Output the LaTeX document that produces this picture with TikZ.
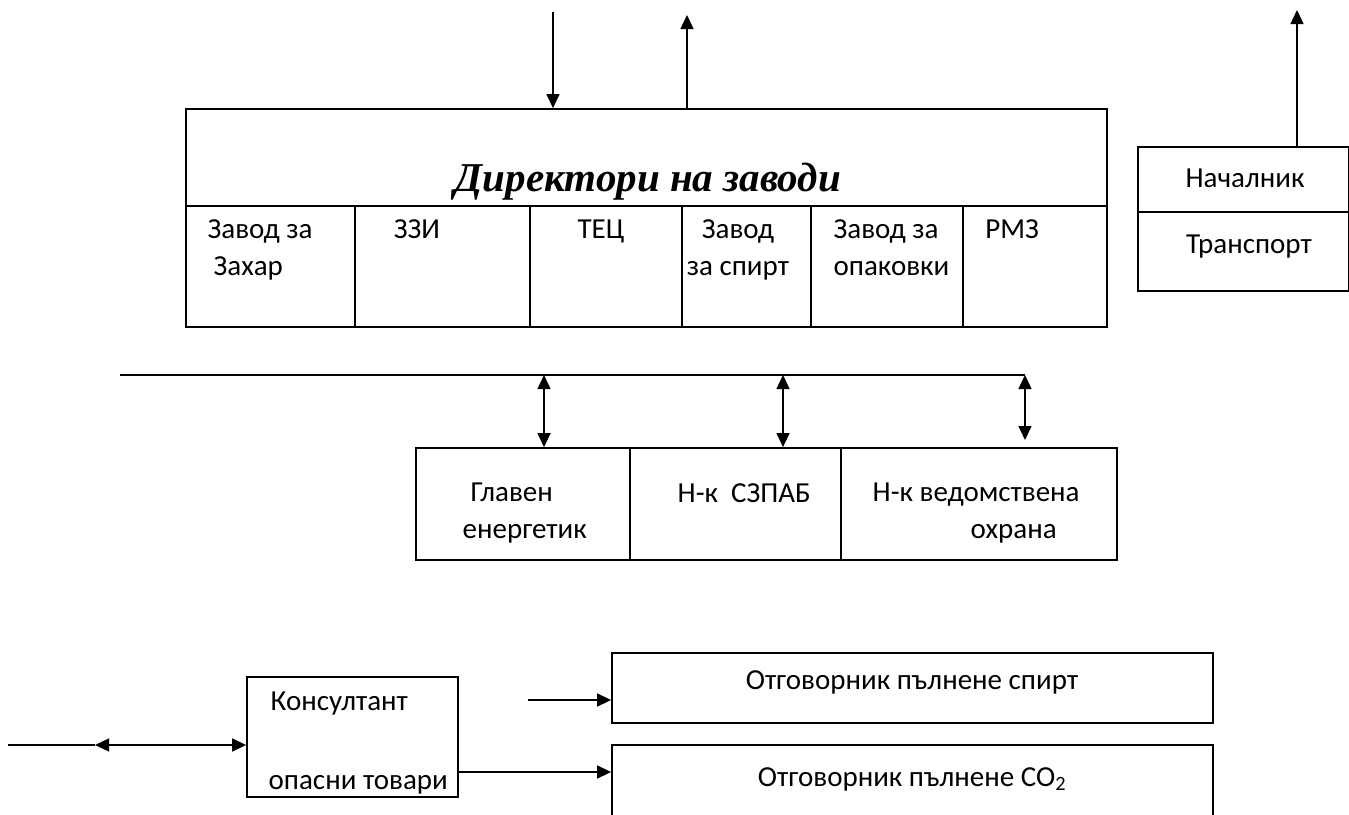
\documentclass[tikz,border=0pt]{standalone}
\usepackage{fontspec}
\setmainfont{Carlito}
\newfontfamily\titlefont{Liberation Serif}
\usetikzlibrary{arrows.meta}
\tikzset{
  box/.style={draw, line width=1.8pt, inner sep=0pt},
  lbl/.style={font=\fontsize{29}{36.5}\selectfont, inner sep=0pt, anchor=base},
  tip/.style={-{Triangle[length=14pt,width=13pt]}},
  bitip/.style={{Triangle[length=14pt,width=13pt]}-{Triangle[length=14pt,width=13pt]}},
}
\begin{document}
\begin{tikzpicture}[x=1pt,y=-1pt,line width=1.4pt]
      \useasboundingbox (0,0) rectangle (1349,814);
      % directors
      \node[box, minimum width=921pt, minimum height=97pt] (dir) at (646.5,157.5) {};
      \node[lbl, font=\titlefont\bfseries\itshape\fontsize{41}{44}\selectfont] (title) at (648,191) {Директори на заводи};
      \node[box, minimum width=169pt, minimum height=121pt] (c1) at (270.5,266.5) {};
      \node[box, minimum width=175pt, minimum height=121pt] (c2) at (442.5,266.5) {};
      \node[box, minimum width=152pt, minimum height=121pt] (c3) at (606,266.5) {};
      \node[box, minimum width=129pt, minimum height=121pt] (c4) at (746.5,266.5) {};
      \node[box, minimum width=152pt, minimum height=121pt] (c5) at (887,266.5) {};
      \node[box, minimum width=144pt, minimum height=121pt] (c6) at (1035,266.5) {};
      \node[lbl, anchor=base west, align=left] (t1) at (207,275) {Завод за\\\hspace{6pt}Захар};
      \node[lbl] (t2) at (417,238) {ЗЗИ};
      \node[lbl] (t3) at (601,238) {ТЕЦ};
      \node[lbl, align=center] (t4) at (738,275) {Завод\\за спирт};
      \node[lbl, anchor=base west, align=left] (t5) at (833,275) {Завод за\\опаковки};
      \node[lbl] (t6) at (1012,238) {РМЗ};
      \coordinate (in) at (553,12);
      \coordinate (out) at (687,15);
      \draw[tip] (in) -- (in |- dir.north);
      \draw[tip] (out |- dir.north) -- (out);
      % transport
      \node[box, minimum width=211pt, minimum height=65pt] (tr1) at (1243.5,179.5) {};
      \node[box, minimum width=211pt, minimum height=79pt] (tr2) at (1243.5,251.5) {};
      \node[lbl] (n1) at (1245,187) {Началник};
      \node[lbl] (n2) at (1249,253) {Транспорт};
      \coordinate (trout) at (1297,10);
      \draw[tip] (trout |- tr1.north) -- (trout);
      % services
      \coordinate (bus) at (120,375);
      \coordinate (busend) at (1025,375);
      \coordinate (g3) at (1025,440);
      \node[box, minimum width=214pt, minimum height=112pt] (g1) at (523,504) {};
      \node[box, minimum width=211pt, minimum height=112pt] (g2) at (735.5,504) {};
      \node[box, minimum width=276pt, minimum height=112pt] (g4) at (979,504) {};
      \node[lbl, anchor=base west, align=left] (s1) at (462,538) {\hspace{8pt}Главен\\енергетик};
      \node[lbl, anchor=base west] (s2) at (677,502) {Н-к~~СЗПАБ};
      \node[lbl, anchor=base west, align=left] (s3) at (872,538) {Н-к ведомствена\\\hspace{98pt}охрана};
      \draw (bus) -- (busend);
      \draw[bitip] (bus -| 544,0) -- (g1.north -| 544,0);
      \draw[bitip] (bus -| 783,0) -- (g2.north -| 783,0);
      \draw[bitip] (busend) -- (g3);
      % dangerous goods
      \node[box, minimum width=211pt, minimum height=120pt] (cons) at (352.5,737) {};
      \node[lbl, anchor=base west] (k1) at (270,710) {Консултант};
      \node[lbl, anchor=base west] (k2) at (268,789) {опасни товари};
      \node[box, minimum width=601pt, minimum height=70pt] (sp) at (912.5,688) {};
      \node[box, minimum width=601pt, minimum height=90pt] (co) at (912.5,790) {};
      \node[lbl] (sp1) at (912,689) {Отговорник пълнене спирт};
      \node[lbl] (co1) at (912,786) {Отговорник пълнене CO\textsubscript{2}};
      \coordinate (ext) at (8,745);
      \coordinate (mid) at (95,745);
      \coordinate (a1) at (528,700);
      \draw (ext) -- (mid);
      \draw[bitip] (mid) -- (cons.west |- mid);
      \draw[tip] (a1) -- (sp.west |- a1);
      \draw[tip] (cons.east |- 0,772) -- (co.west |- 0,772);
    \end{tikzpicture}
\end{document}
